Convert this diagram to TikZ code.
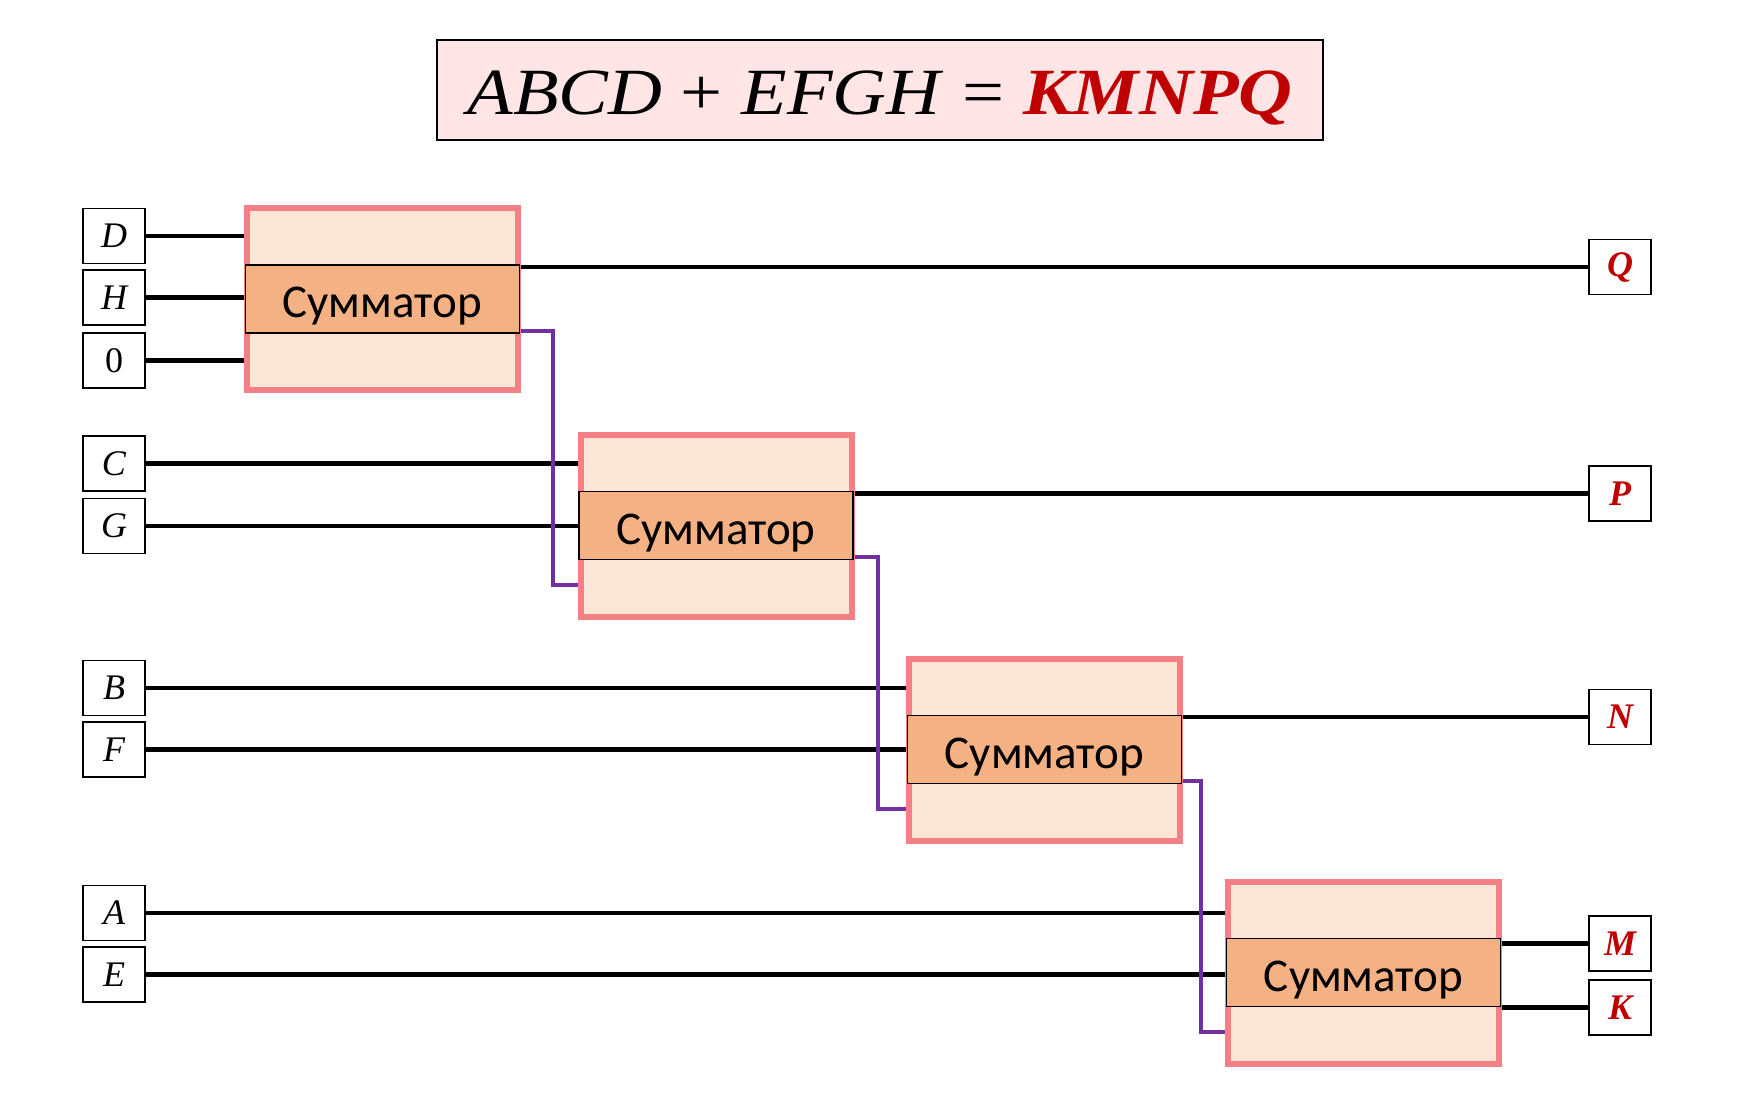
\documentclass[tikz,border=0pt]{standalone}
\usepackage{fontspec}
\setmainfont{Liberation Serif}
\newfontfamily\sumfont{Carlito}
\usetikzlibrary{backgrounds}
\definecolor{adderborder}{HTML}{F47F84}
\definecolor{adderfill}{HTML}{FBE5D6}
\definecolor{innerfill}{HTML}{F4B183}
\definecolor{titlefill}{HTML}{FFE5E6}
\definecolor{redtxt}{HTML}{C00000}
\definecolor{carrycol}{HTML}{7030A0}
\tikzset{
  inbox/.style={draw=black, line width=1.5pt, fill=white, minimum width=62pt, minimum height=55pt, inner sep=0pt, font=\fontsize{36}{40}\selectfont\itshape},
  outbox/.style={inbox, text=redtxt, font=\fontsize{36}{40}\selectfont\bfseries\itshape},
  adder/.style={draw=adderborder, line width=6pt, fill=adderfill, minimum width=271pt, minimum height=182pt, inner sep=0pt},
  summ/.style={draw=black, line width=1.5pt, fill=innerfill, minimum width=274pt, minimum height=68pt, inner sep=0pt, text height=37pt, text depth=0pt, font=\sumfont\fontsize{47}{52}\selectfont},
  wire/.style={line width=4.5pt, black},
  carry/.style={line width=4pt, carrycol}
}
\begin{document}
\begin{tikzpicture}[x=1pt,y=-1pt]
\useasboundingbox (0,0) rectangle (1764,1118);
% title
\node[draw=black, line width=1.5pt, fill=titlefill, minimum width=886pt, minimum height=100pt, inner sep=0pt, text height=50pt, text depth=0pt] (title) at (880,90)
  {\scalebox{1.13}[1]{\fontsize{66}{80}\selectfont\itshape ABCD\ \textup{+}\ EFGH\ \textup{=}\ \textcolor{redtxt}{\bfseries KMNPQ}}};
% adders
\node[adder] (a1) at (382.5,299) {};
\node[summ] (s1) at (a1) {Сумматор};
\node[adder] (a2) at (716,525.5) {};
\node[summ] (s2) at (a2) {Сумматор};
\node[adder] (a3) at (1044.5,749.5) {};
\node[summ] (s3) at (a3) {Сумматор};
\node[adder] (a4) at (1363.5,972.5) {};
\node[summ] (s4) at (a4) {Сумматор};
% inputs
\node[inbox] (D) at (114,236) {D};
\node[inbox] (H) at (114,297.5) {H};
\node[inbox, font=\fontsize{36}{40}\selectfont] (Z) at (114,360.5) {0};
\node[inbox] (C) at (114,463.5) {C};
\node[inbox] (G) at (114,526) {G};
\node[inbox] (B) at (114,688) {B};
\node[inbox] (F) at (114,749.5) {F};
\node[inbox] (A) at (114,913) {A};
\node[inbox] (E) at (114,974.5) {E};
% outputs
\node[outbox] (Q) at (1620,267) {Q};
\node[outbox] (P) at (1620,493.5) {P};
\node[outbox] (N) at (1620,717) {N};
\node[outbox] (M) at (1620,943.5) {M};
\node[outbox] (K) at (1620,1007.5) {K};
\begin{scope}[on background layer]
  \draw[wire] (D.east) -- (D.east -| a1.west);
  \draw[wire] (H.east) -- (H.east -| a1.west);
  \draw[wire] (Z.east) -- (Z.east -| a1.west);
  \draw[wire] (C.east) -- (C.east -| a2.west);
  \draw[wire] (G.east) -- (G.east -| a2.west);
  \draw[wire] (B.east) -- (B.east -| a3.west);
  \draw[wire] (F.east) -- (F.east -| a3.west);
  \draw[wire] (A.east) -- (A.east -| a4.west);
  \draw[wire] (E.east) -- (E.east -| a4.west);
  \draw[wire] (Q.west -| a1.east) -- (Q.west);
  \draw[wire] (P.west -| a2.east) -- (P.west);
  \draw[wire] (N.west -| a3.east) -- (N.west);
  \draw[wire] (M.west -| a4.east) -- (M.west);
  \draw[wire] (K.west -| a4.east) -- (K.west);
  \draw[carry] ([yshift=3pt]s1.south -| a1.east) -- ++(32,0) |- ([yshift=35pt]a2.south -| a2.west);
  \draw[carry] ([yshift=3pt]s2.south -| a2.east) -- ++(23,0) |- ([yshift=35pt]a3.south -| a3.west);
  \draw[carry] ([yshift=3pt]s3.south -| a3.east) -- ++(18,0) |- ([yshift=35pt]a4.south -| a4.west);
\end{scope}
\end{tikzpicture}
\end{document}
